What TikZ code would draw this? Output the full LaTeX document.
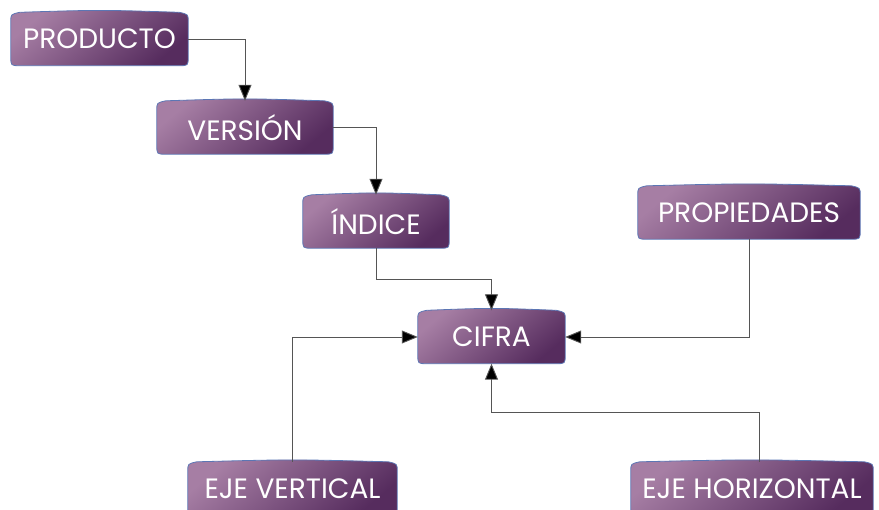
\documentclass[tikz,border=0pt]{standalone}
\usepackage{fontspec}
\setmainfont{Poppins}
\usetikzlibrary{arrows.meta,calc,backgrounds}

\definecolor{boxlight}{RGB}{166,126,164}
\definecolor{boxdark}{RGB}{86,44,94}
\definecolor{boxedge}{RGB}{92,118,180}
\definecolor{wire}{RGB}{85,85,85}

\tikzset{
  tag/.style={minimum height=53pt, inner sep=0pt, text=white,
    font=\fontsize{28}{32}\selectfont},
  conn/.style={draw=wire, line width=0.9pt,
    -{Triangle[length=16pt,width=13pt,fill=black]}},
  tagshape/.style={draw=boxedge, line width=0.8pt,
    top color=boxlight, bottom color=boxdark, shading angle=40}
}

% rounded box with a slightly bowed top edge, drawn behind a named node
\newcommand\tagoutline[1]{%
  \begin{scope}[on background layer]
    \path[tagshape]
      ([yshift=9pt]#1.south west) -- ([yshift=-9pt]#1.north west)
      .. controls ([yshift=-2pt]#1.north west) .. ([xshift=9pt]#1.north west)
      .. controls ([yshift=2.5pt]#1.north) .. ([xshift=-9pt]#1.north east)
      .. controls ([yshift=-2pt]#1.north east) .. ([yshift=-9pt]#1.north east)
      -- ([yshift=9pt]#1.south east)
      .. controls (#1.south east) .. ([xshift=-9pt]#1.south east)
      -- ([xshift=9pt]#1.south west)
      .. controls (#1.south west) .. cycle;
  \end{scope}}

\begin{document}
\begin{tikzpicture}[x=1pt,y=-1pt]
  \useasboundingbox (0,0) rectangle (879,510);

  \node[tag, minimum width=177pt] (prod) at (99.5,39)   {PRODUCTO};
  \node[tag, minimum width=176pt] (ver)  at (245,127.5) {VERSIÓN};
  \node[tag, minimum width=146pt] (ind)  at (376,221.5) {ÍNDICE};
  \node[tag, minimum width=147pt] (cif)  at (491.5,337) {CIFRA};
  \node[tag, minimum width=222pt] (prop) at (749,212.5) {PROPIEDADES};
  \node[tag, minimum width=209pt] (ev)   at (292.5,488.5) {EJE VERTICAL};
  \node[tag, minimum width=242pt] (eh)   at (752,488.5) {EJE HORIZONTAL};

  \foreach \n in {prod,ver,ind,cif,prop,ev,eh} {\tagoutline{\n}}

  \draw[conn] (prod.east) -| (ver.north);
  \draw[conn] (ver.east) -| (ind.north);
  \draw[conn] (ind.south) |- ($(ind.south)!.5!(cif.north)$) -| (cif.north);
  \draw[conn] (prop.south) |- (cif.east);
  \draw[conn] (ev.north) |- (cif.west);
  \coordinate (ehtop) at ([xshift=7pt]eh.north);
  \draw[conn] (ehtop) |- ($(cif.south)!.5!(ehtop)$) -| (cif.south);
\end{tikzpicture}
\end{document}
